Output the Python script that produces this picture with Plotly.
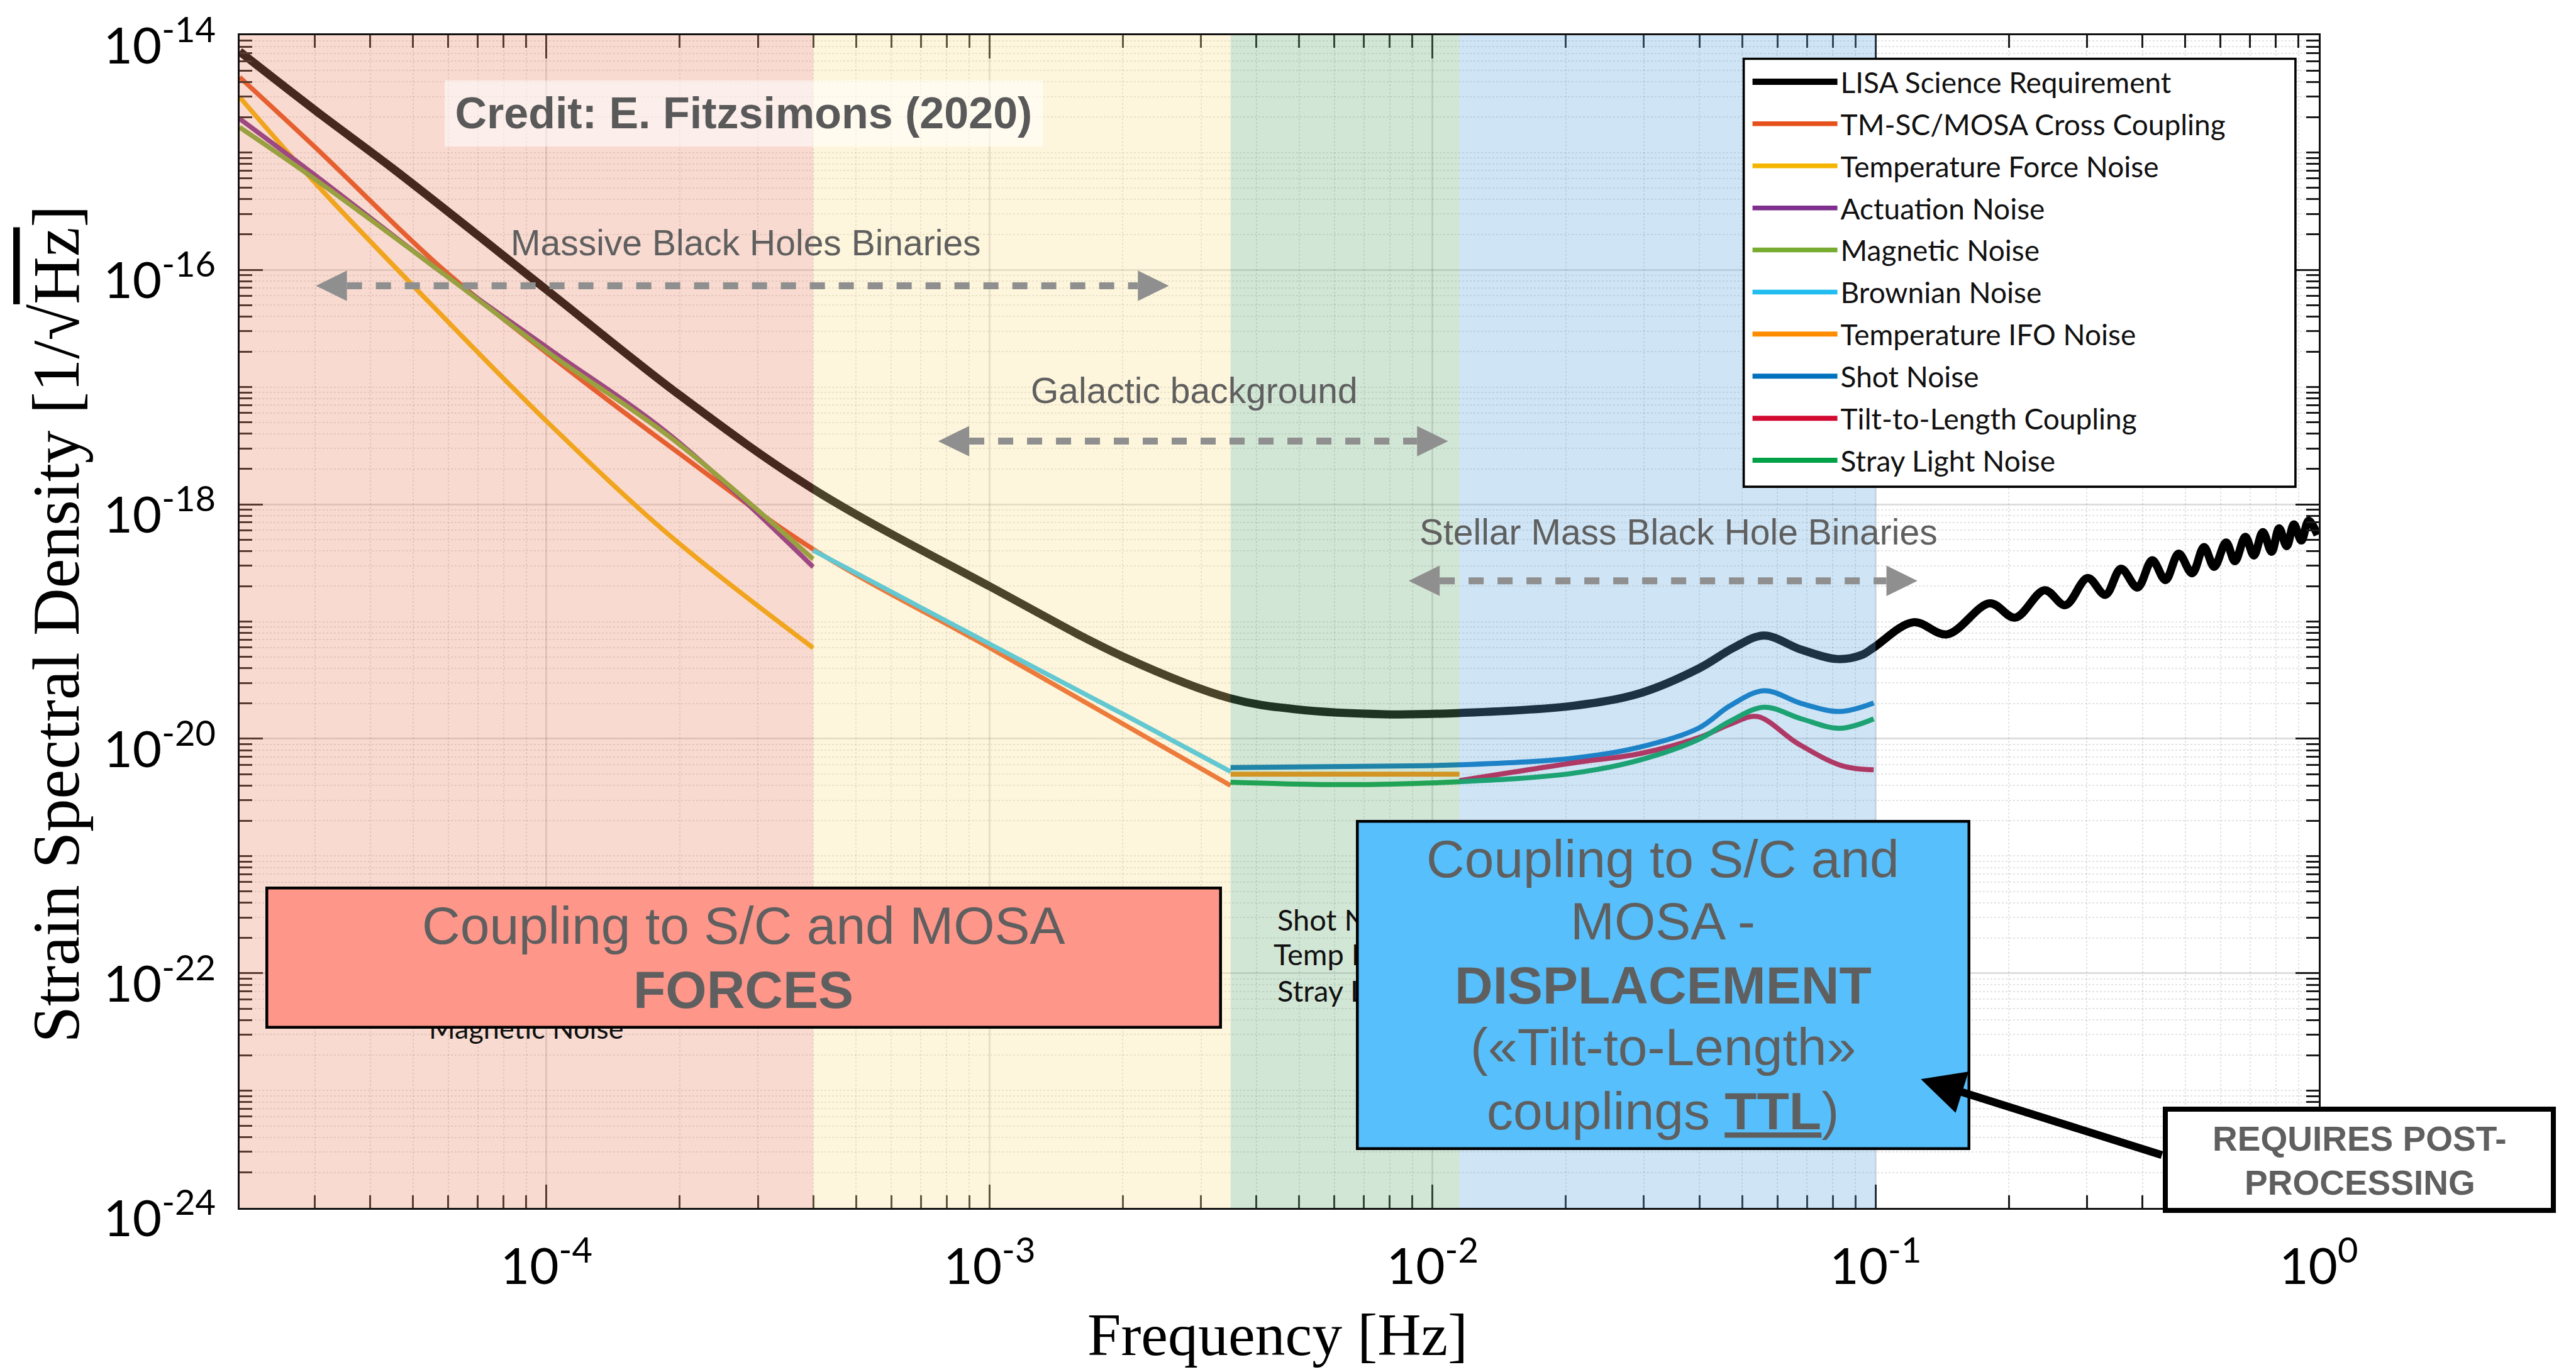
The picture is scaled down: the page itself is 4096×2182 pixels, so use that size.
import numpy as np
import plotly.graph_objects as go

# ---------------- DATA ----------------
lisa_f = [2.03e-5, 3.02e-5, 4.55e-5, 1.0e-4, 2.0e-4, 4.0e-4, 1.0e-3, 2.03e-3, 3.5e-3,
          4.95e-3, 7.8e-3, 1.15e-2, 2.07e-2, 2.94e-2, 3.99e-2, 4.8e-2, 5.6e-2, 6.8e-2,
          8.2e-2, 9.3e-2, 9.9e-2, 0.1216, 0.145, 0.181, 0.2065, 0.2406, 0.268, 0.301,
          0.330, 0.358, 0.390, 0.421, 0.451, 0.483, 0.518, 0.551, 0.581, 0.618,
          0.647, 0.683, 0.714, 0.748, 0.783, 0.814, 0.847, 0.879, 0.914, 0.949, 0.994]
lisa_h = [7.26e-15, 2.26e-15, 7.08e-16, 6.76e-17, 8.51e-18, 1.35e-18, 2.0e-19, 4.9e-20, 2.21e-20,
          1.78e-20, 1.62e-20, 1.66e-20, 1.91e-20, 2.45e-20, 3.98e-20, 6.03e-20, 7.59e-20, 5.75e-20,
          4.79e-20, 5.19e-20, 6.0e-20, 9.86e-20, 7.78e-20, 1.43e-19, 1.08e-19, 1.85e-19, 1.38e-19, 2.35e-19,
          1.69e-19, 2.82e-19, 1.95e-19, 3.33e-19, 2.26e-19, 3.79e-19, 2.58e-19, 4.32e-19, 2.93e-19, 4.73e-19,
          3.27e-19, 5.28e-19, 3.66e-19, 5.79e-19, 3.94e-19, 6.24e-19, 4.40e-19, 6.73e-19, 4.91e-19, 7.23e-19, 5.48e-19]

tmsc_f = [2.03e-5, 3.02e-5, 5.82e-5, 1.02e-4, 1.92e-4, 4.0e-4, 1.0e-3, 2.03e-3, 3.5e-3]
tmsc_h = [4.39e-15, 1.09e-15, 1.02e-16, 1.85e-17, 3.02e-18, 4.14e-19, 6.0e-20, 1.3e-20, 4.0e-21]

tforce_f = [2.03e-5, 3.02e-5, 5.6e-5, 1.02e-4, 1.92e-4, 4.0e-4]
tforce_h = [2.97e-15, 5.40e-16, 4.70e-17, 4.76e-18, 5.22e-19, 5.96e-20]

act_f = [2.03e-5, 3.02e-5, 5.82e-5, 1.02e-4, 1.92e-4, 4.0e-4]
act_h = [1.94e-15, 6.31e-16, 9.42e-17, 2.08e-17, 3.78e-18, 2.92e-19]

mag_f = [2.03e-5, 3.02e-5, 5.82e-5, 1.02e-4, 1.92e-4, 4.0e-4]
mag_h = [1.64e-15, 5.83e-16, 9.42e-17, 1.92e-17, 3.63e-18, 3.41e-19]

brown_f = [4.0e-4, 1.0e-3, 2.03e-3, 3.5e-3]
brown_h = [4.05e-19, 6.45e-20, 1.58e-20, 5.25e-21]

tifo_f = [3.5e-3, 6.3e-3, 1.15e-2]
tifo_h = [5.0e-21, 5.0e-21, 5.0e-21]

shot_f = [3.5e-3, 6.3e-3, 1.15e-2, 2.07e-2, 2.94e-2, 3.98e-2, 4.69e-2, 5.6e-2, 6.8e-2, 8.3e-2, 9.9e-2]
shot_h = [5.68e-21, 5.81e-21, 6.0e-21, 6.82e-21, 8.51e-21, 1.23e-20, 1.91e-20, 2.57e-20, 2.0e-20, 1.71e-20, 2.02e-20]

ttl_f = [1.15e-2, 2.07e-2, 2.94e-2, 3.98e-2, 4.69e-2, 5.4e-2, 6.67e-2, 8.4e-2, 9.9e-2]
ttl_h = [4.4e-21, 6.22e-21, 7.48e-21, 1.02e-20, 1.33e-20, 1.55e-20, 9.12e-21, 5.89e-21, 5.44e-21]

stray_f = [3.5e-3, 6.3e-3, 1.15e-2, 2.07e-2, 2.94e-2, 3.98e-2, 4.69e-2, 5.6e-2, 6.8e-2, 8.3e-2, 9.9e-2]
stray_h = [4.27e-21, 4.07e-21, 4.31e-21, 5.08e-21, 6.61e-21, 9.86e-21, 1.41e-20, 1.86e-20, 1.48e-20, 1.23e-20, 1.48e-20]

series_names = ["LISA Science Requirement", "TM-SC/MOSA Cross Coupling", "Temperature Force Noise",
                "Actuation Noise", "Magnetic Noise", "Brownian Noise", "Temperature IFO Noise",
                "Shot Noise", "Tilt-to-Length Coupling", "Stray Light Noise"]
series_f = [lisa_f, tmsc_f, tforce_f, act_f, mag_f, brown_f, tifo_f, shot_f, ttl_f, stray_f]
series_h = [lisa_h, tmsc_h, tforce_h, act_h, mag_h, brown_h, tifo_h, shot_h, ttl_h, stray_h]
series_colors = ["#000000", "#E6501A", "#F5B400", "#7E2F8E", "#77AC30", "#22BDF0",
                 "#FF8C00", "#0072BD", "#D20A32", "#00A046"]
series_widths = [13, 7.5, 7.5, 7.5, 7.5, 7.5, 8, 8, 8, 8]

# frequency bands (edges in Hz) and their overlay colours
band_edges = [2.03e-5, 4.0e-4, 3.5e-3, 1.15e-2, 0.1]
band_colors = ["rgba(232,132,98,0.30)", "rgba(252,225,138,0.30)",
               "rgba(105,172,118,0.30)", "rgba(95,168,222,0.30)"]

x_tickvals = [1e-4, 1e-3, 1e-2, 1e-1, 1e0]
x_ticktext = ["10<sup>-4</sup>", "10<sup>-3</sup>", "10<sup>-2</sup>", "10<sup>-1</sup>", "10<sup>0</sup>"]
y_tickvals = [1e-24, 1e-22, 1e-20, 1e-18, 1e-16, 1e-14]
y_ticktext = ["10<sup>-24</sup>", "10<sup>-22</sup>", "10<sup>-20</sup>",
              "10<sup>-18</sup>", "10<sup>-16</sup>", "10<sup>-14</sup>"]

# ---------------- GEOMETRY ----------------
S = 0.897
WIN_W, WIN_H = 4096, 2182
M_L, M_R, M_T, M_B = 381, 409, 53, 261
PW = WIN_W - M_L - M_R
PH = WIN_H - M_T - M_B
X_RANGE = [float(np.log10(2.03e-5)), 0.0002]
Y_RANGE = [-24.0002, -13.9998]


def px_x(xr):
    """reference-pixel x -> paper x"""
    return (xr * S - M_L) / PW


def px_y(yr):
    """reference-pixel y -> paper y"""
    return (WIN_H - M_B - yr * S) / PH


def fx(f):
    return (np.log10(f) - X_RANGE[0]) / (X_RANGE[1] - X_RANGE[0])


# minor tick positions
x_minor = [k * 10.0 ** d for d in range(-5, 0) for k in range(2, 10) if k * 10.0 ** d >= 2.03e-5]
y_minor = [k * 10.0 ** d for d in range(-24, -14) for k in range(1, 10)
           if not (k == 1 and d % 2 == 0)]

fig = go.Figure()
for name, f, h, c, w in zip(series_names, series_f, series_h, series_colors, series_widths):
    fig.add_trace(go.Scatter(x=f, y=h, name=name, mode="lines", legendgroup=name,
                             line=dict(color=c, width=w, shape="spline", smoothing=1.0),
                             hoverinfo="skip"))

shapes = []
# semi-transparent coloured bands over the plot
for i, col in enumerate(band_colors):
    shapes.append(dict(type="rect", xref="paper", yref="paper",
                       x0=fx(band_edges[i]), x1=fx(band_edges[i + 1]), y0=0, y1=1,
                       fillcolor=col, line=dict(width=0), layer="above"))

# grey dashed double arrows (reference px: left tip, right tip, y)
ARROW_GREY = "#8f8f8f"
HL, HH = 55, 27
for x0, x1, y in [(560, 2072, 504), (1663, 2567, 780), (2497, 3399, 1028)]:
    shapes.append(dict(type="line", xref="paper", yref="paper",
                       x0=px_x(x0 + HL), x1=px_x(x1 - HL), y0=px_y(y), y1=px_y(y),
                       line=dict(color=ARROW_GREY, width=11, dash="24px,22px"), layer="above"))
    for tip, sgn in [(x0, 1), (x1, -1)]:
        path = "M {:.5f},{:.5f} L {:.5f},{:.5f} L {:.5f},{:.5f} Z".format(
            px_x(tip), px_y(y), px_x(tip + sgn * HL), px_y(y - HH), px_x(tip + sgn * HL), px_y(y + HH))
        shapes.append(dict(type="path", xref="paper", yref="paper", path=path,
                           fillcolor=ARROW_GREY, line=dict(width=0), layer="above"))

# legend frame
shapes.append(dict(type="rect", xref="paper", yref="paper",
                   x0=px_x(3091), x1=px_x(4069), y0=px_y(861), y1=px_y(101),
                   fillcolor="white", line=dict(color="black", width=3.6), layer="above"))

GREY_TXT = "#5f5f5f"
SANS = "Liberation Sans"
ann = []


def text_ann(xr, yr, text, size, color=GREY_TXT, family=SANS, xanchor="center", **kw):
    d = dict(xref="paper", yref="paper", x=px_x(xr), y=px_y(yr), text=text, showarrow=False,
             xanchor=xanchor, yanchor="middle", font=dict(family=family, size=size, color=color))
    d.update(kw)
    ann.append(d)


def box_ann(x0, y0, x1, y1, fill, bw, bcolor="black"):
    wpx = (x1 - x0) * S
    hpx = (y1 - y0) * S
    ann.append(dict(xref="paper", yref="paper", x=px_x((x0 + x1) / 2), y=px_y((y0 + y1) / 2),
                    text="\u00a0", showarrow=False, xanchor="center", yanchor="middle",
                    width=wpx - 2 * bw, height=hpx - 2 * bw, bgcolor=fill,
                    bordercolor=bcolor, borderwidth=bw, borderpad=0,
                    font=dict(family=SANS, size=10, color=fill)))


# credit
ann.append(dict(xref="paper", yref="paper", x=px_x(1318), y=px_y(198.5),
                text="<b>Credit: E. Fitzsimons (2020)</b>", showarrow=False,
                xanchor="center", yanchor="middle", width=(1848 - 788) * S, height=(257 - 140) * S,
                bgcolor="rgba(255,255,255,0.55)", borderpad=0, borderwidth=0,
                font=dict(family=SANS, size=70, color="#595959")))

# region labels
text_ann(1322, 428, "Massive Black Holes Binaries", 57)
text_ann(2117, 690, "Galactic background", 57)
text_ann(2976, 941, "Stellar Mass Black Hole Binaries", 57)

# remnants of labels covered by the boxes
text_ann(933, 1822, "Magnetic Noise", 45, color="#111", family="Lato")
text_ann(2262, 1629, "Shot Noise", 47, color="#111", family="Lato", xanchor="left")
text_ann(2255, 1691, "Temp Noise", 47, color="#111", family="Lato", xanchor="left")
text_ann(2262, 1755, "Stray Light", 47, color="#111", family="Lato", xanchor="left")

# pink FORCES box
box_ann(470, 1571, 2166, 1823, "#FE968A", 4.5)
text_ann(1318, 1640, "Coupling to S/C and MOSA", 84)
text_ann(1318, 1754, "<b>FORCES</b>", 84)

# blue DISPLACEMENT box
box_ann(2404, 1453, 3493, 2038, "#57BFFB", 4.5)
for yr, t in [(1522, "Coupling to S/C and"), (1632, "MOSA -"),
              (1746, "<b>DISPLACEMENT</b>"),
              (1856, "(\u00abTilt-to-Length\u00bb"), (1970, "couplings <b><u>TTL</u></b>)")]:
    text_ann(2948, yr, t, 84)

# black arrow from the post-processing box
tip_x, tip_y, tail_x, tail_y = 3405, 1913, 3834, 2048
ann.append(dict(xref="paper", yref="paper", x=px_x(tip_x), y=px_y(tip_y), text="",
                showarrow=True, arrowhead=2, arrowsize=1.1, arrowwidth=12.5, arrowcolor="black",
                ax=(tail_x - tip_x) * S, ay=(tail_y - tip_y) * S, standoff=0))

# REQUIRES POST-PROCESSING box
box_ann(3834, 1962, 4531, 2150, "white", 8)
text_ann(4183, 2019, "<b>REQUIRES POST-</b>", 55)
text_ann(4183, 2097, "<b>PROCESSING</b>", 55)

# axis titles
text_ann(100, 1105, "Strain Spectral Density [1/\u221a<span style='text-decoration:overline'>Hz</span>]",
         105, color="#000", family="Liberation Serif", textangle=-90)
text_ann(2265, 2367, "Frequency [Hz]", 96, color="#000", family="Liberation Serif")

axis_common = dict(type="log", ticks="inside", ticklen=37, tickwidth=3, tickcolor="#1a1a1a",
                   showline=True, linecolor="#111", linewidth=3, mirror="allticks",
                   showgrid=True, gridcolor="rgba(0,0,0,0.13)", gridwidth=3, zeroline=False,
                   tickfont=dict(family="Lato", size=80, color="#000"), tickmode="array")

fig.update_layout(
    width=WIN_W, height=WIN_H,
    margin=dict(l=M_L, r=M_R, t=M_T, b=M_B, pad=0),
    paper_bgcolor="white", plot_bgcolor="white",
    xaxis=dict(axis_common, range=X_RANGE, tickvals=x_tickvals, ticktext=x_ticktext,
               ticklabelstandoff=22,
               minor=dict(tickmode="array", tickvals=x_minor, ticks="inside", ticklen=20,
                          tickwidth=2.5, tickcolor="#1a1a1a", showgrid=True,
                          gridcolor="rgba(0,0,0,0.11)", griddash="dot", gridwidth=2)),
    yaxis=dict(axis_common, range=Y_RANGE, tickvals=y_tickvals, ticktext=y_ticktext,
               ticklabelstandoff=19, ticklabelshift=17,
               minor=dict(tickmode="array", tickvals=y_minor, ticks="inside", ticklen=20,
                          tickwidth=2.5, tickcolor="#1a1a1a", showgrid=True,
                          gridcolor="rgba(0,0,0,0.11)", griddash="dot", gridwidth=2)),
    showlegend=True,
    legend=dict(x=px_x(3101), y=px_y(101), xanchor="left", yanchor="top",
                bgcolor="rgba(0,0,0,0)", borderwidth=0, itemwidth=135,
                traceorder="grouped", tracegroupgap=4.1,
                font=dict(family="Lato", size=46, color="#111")),
    shapes=shapes, annotations=ann,
)

fig.write_html("out.html")
